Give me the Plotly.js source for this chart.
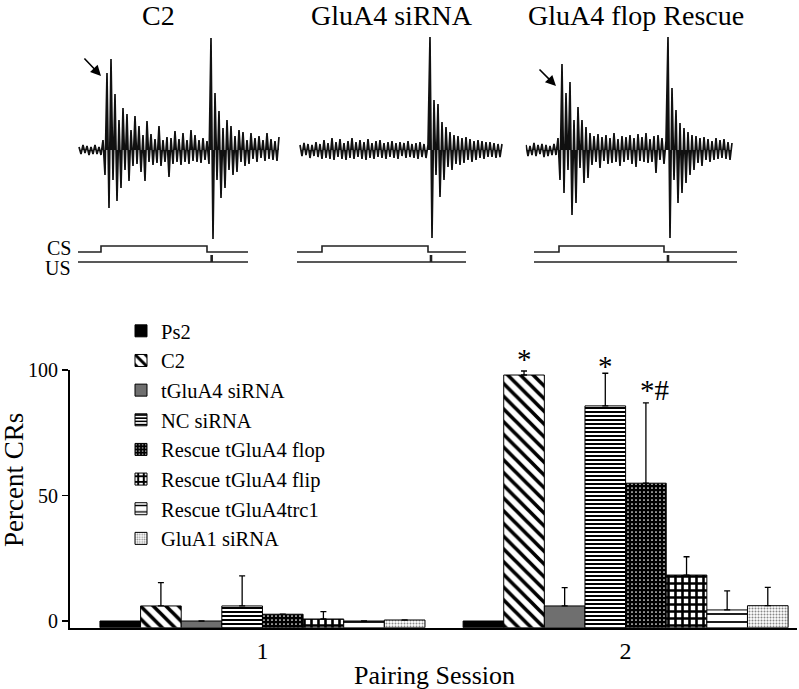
<!DOCTYPE html>
<html>
<head>
<meta charset="utf-8">
<script src="https://cdn.plot.ly/plotly-3.0.1.min.js"></script>
<style>html,body{margin:0;padding:0;background:#fff}#chart{width:799px;height:689px}</style>
</head>
<body>
<div id="chart"></div>
<script>
// ---------- Bar chart data (Percent CRs) ----------
const sessions = [1, 2];
const seriesNames = ['Ps2', 'C2', 'tGluA4 siRNA', 'NC siRNA', 'Rescue tGluA4 flop',
                     'Rescue tGluA4 flip', 'Rescue tGluA4trc1', 'GluA1 siRNA'];
const ps2Vals   = [0, 0];
const c2Vals    = [6, 98];
const tGluA4Vals= [0, 6];
const ncVals    = [6, 85.7];
const flopVals  = [2.7, 54.9];
const flipVals  = [0.8, 18.3];
const trc1Vals  = [0, 4.4];
const gluA1Vals = [0.4, 6.1];
const ps2Err    = [0, 0];
const c2Err     = [9.3, 1.6];
const tGluA4Err = [0, 7.3];
const ncErr     = [12, 13];
const flopErr   = [0, 32];
const flipErr   = [2.9, 7.3];
const trc1Err   = [0, 7.6];
const gluA1Err  = [0, 7.3];
const yTickVals = [0, 50, 100];
const signifLabels = ['*', '*', '*#'];   // above C2, NC siRNA, Rescue flop in session 2

// ---------- Trace recordings (sample values, arbitrary µV units) ----------
const c2T0 = -66, c2Dt = 6;
const c2Trace = [3,-4,5,-3,4,-5,3,-4,5,-4,3,-5,
  10,-25,77,-58,91,-30,56,-51,30,-38,42,-20,36,-31,20,-16,34,-14,24,-22,15,-31,29,-12,
  16,-15,11,-13,24,-16,10,-12,13,-27,12,-14,19,-12,11,-15,17,-12,10,-14,20,-11,15,-12,10,-13,12,-10,9,-14,
  112,-89,57,-30,39,-48,22,-38,30,-20,24,-25,14,-22,20,-12,18,-16,10,-14,
  17,-9,12,-12,14,-8,10,-11,17,-9,11,-10,9,-11,13];
const siT0 = -66, siDt = 6;
const siTrace = [5,-6,7,-5,6,-8,5,-6,8,-7,6,-9,10,-8,7,-9,12,-10,8,-7,
  11,-9,7,-10,9,-8,12,-9,8,-7,10,-9,8,-10,11,-8,7,-9,9,-7,
  10,-8,7,-9,8,-7,9,-8,7,-9,8,-6,7,-8,9,-7,6,-8,7,-9,8,-7,6,-8,5,
  113,-88,50,-25,46,-47,28,-30,23,-17,18,-20,15,-14,14,-15,12,-13,13,-10,
  11,-12,9,-10,10,-8,9,-9,8,-7,8,-7,7,-8,6,-7,6];
const flT0 = -99, flDt = 6;
const flTrace = [5,-6,4,-5,7,-6,5,-4,6,-7,5,-6,4,-5,6,-5,
  12,-30,86,-43,57,-20,68,-65,30,-53,43,-18,30,-33,23,-28,17,
  -15,14,-12,16,-18,13,-11,15,-14,12,-13,17,-12,11,-16,14,-12,13,-10,15,
  -14,12,-17,16,-11,13,-12,17,-13,11,-12,14,-23,15,-10,12,-14,9,
  113,-88,62,-30,40,-53,27,-43,22,-33,18,-25,15,-20,14,-13,12,-16,13,-10,11,
  -12,9,-10,12,-9,10,-8,11,-9,8,-10,7];
// CS (tone) and US timing in ms, per panel: [line start, CS on, CS off, line end, US time]
const c2Stim = [-69, 0, 318, 441, 332];
const siStim = [-75, 0, 318, 432, 327];
const flStim = [-75, 0, 315, 534, 327];
const csLow = -102, csHigh = -96, usLevel = -112, usTickTop = -105;
const panelTitles = ['C2', 'GluA4 siRNA', 'GluA4 flop Rescue'];

// ---------- geometry helpers ----------
const W = 799, H = 689;
const FONT = 'Liberation Serif, "Times New Roman", serif';
const px = v => v / W;
const py = v => 1 - v / H;

const AXIS_FLOOR = -2.67;
const BARGAP = 0.105;

const vals = [ps2Vals, c2Vals, tGluA4Vals, ncVals, flopVals, flipVals, trc1Vals, gluA1Vals];
const errs = [ps2Err, c2Err, tGluA4Err, ncErr, flopErr, flipErr, trc1Err, gluA1Err];
const patterns = [
  {color:'#000000', pattern:{shape:''}},
  {color:'#ffffff', pattern:{shape:'\\', fgcolor:'#000', bgcolor:'#fff', size:9, solidity:0.4, fillmode:'replace'}},
  {color:'#6f6f6f', pattern:{shape:''}},
  {color:'#ffffff', pattern:{shape:'-', fgcolor:'#000', bgcolor:'#fff', size:4, solidity:0.5, fillmode:'replace'}},
  {color:'#000000', pattern:{shape:'.', fgcolor:'#fff', bgcolor:'#000', size:4, solidity:0.15, fillmode:'replace'}},
  {color:'#ffffff', pattern:{shape:'+', fgcolor:'#000', bgcolor:'#fff', size:7, solidity:0.6, fillmode:'replace'}},
  {color:'#ffffff', pattern:{shape:'-', fgcolor:'#000', bgcolor:'#fff', size:8, solidity:0.22, fillmode:'replace'}},
  {color:'#ffffff', pattern:{shape:'.', fgcolor:'#888', bgcolor:'#fff', size:3, solidity:0.35, fillmode:'replace'}}
];

const data = [];
seriesNames.forEach((name, k) => {
  const hasErr = errs[k].some(e => e > 0);
  data.push({
    type:'bar', name:name, x:sessions,
    y: vals[k].map(v => v - AXIS_FLOOR), base: AXIS_FLOOR,
    xaxis:'x', yaxis:'y',
    marker:{color:patterns[k].color, pattern:patterns[k].pattern, line:{color:'#000', width:1}},
    error_y: hasErr ? {type:'data', symmetric:false, array:errs[k], arrayminus:errs[k].map(()=>0),
      color:'#000', thickness:1.3, width:3, visible:true} : {visible:false},
    hoverinfo:'skip'
  });
});

function tAxis(t0, dt, n){ const t=[]; for(let i=0;i<n;i++) t.push(t0+i*dt); return t; }
const panels = [
  {trace:c2Trace, t0:c2T0, dt:c2Dt, stim:c2Stim, onsetPx:101, ax:'2'},
  {trace:siTrace, t0:siT0, dt:siDt, stim:siStim, onsetPx:322, ax:'3'},
  {trace:flTrace, t0:flT0, dt:flDt, stim:flStim, onsetPx:559, ax:'4'}
];
const layoutExtra = {};
const T_MIN = -100, T_MAX = 560, MS_PER_PX = 3;
panels.forEach(p => {
  const xa = 'x'+p.ax, ya = 'y'+p.ax;
  data.push({type:'scatter', mode:'lines', x:tAxis(p.t0,p.dt,p.trace.length), y:p.trace,
    xaxis:xa, yaxis:ya, line:{color:'#111', width:1.7}, fill:'tozeroy', fillcolor:'#111',
    showlegend:false, hoverinfo:'skip'});
  const s = p.stim;
  data.push({type:'scatter', mode:'lines', x:[s[0], s[1], s[1], s[2], s[2], s[3]],
    y:[csLow, csLow, csHigh, csHigh, csLow, csLow], xaxis:xa, yaxis:ya,
    line:{color:'#222', width:1.6}, showlegend:false, hoverinfo:'skip'});
  data.push({type:'scatter', mode:'lines', x:[s[0], s[3]], y:[usLevel, usLevel], xaxis:xa, yaxis:ya,
    line:{color:'#222', width:1.6}, showlegend:false, hoverinfo:'skip'});
  data.push({type:'scatter', mode:'lines', x:[s[4], s[4]], y:[usLevel, usTickTop], xaxis:xa, yaxis:ya,
    line:{color:'#222', width:2.6}, showlegend:false, hoverinfo:'skip'});
  const left = p.onsetPx + T_MIN / MS_PER_PX;
  const right = left + (T_MAX - T_MIN) / MS_PER_PX;
  layoutExtra['xaxis'+p.ax] = {domain:[px(left), px(right)], range:[T_MIN, T_MAX], visible:false, fixedrange:true, anchor:ya};
  layoutExtra['yaxis'+p.ax] = {domain:[py(275), py(30)], range:[-125, 120], visible:false, fixedrange:true, anchor:xa};
});

// significance annotation positions (bar centres from group geometry)
const nSeries = seriesNames.length;
const barW = (1 - BARGAP) / nSeries;
const centre = k => 2 - (1 - BARGAP) / 2 + (k + 0.5) * barW;
const annotations = [];
[[1, 0, -6], [3, 1, -11], [4, 2, -5]].forEach(([k, li, ys]) => {
  annotations.push({xref:'x', yref:'y', x:centre(k), y:vals[k][1] + errs[k][1], text:signifLabels[li],
    showarrow:false, yanchor:'bottom', xanchor: li === 2 ? 'left' : 'center', xshift: li === 2 ? -8 : 0,
    yshift: ys, font:{family:FONT, size:29, color:'#000'}});
});
// panel titles
[[158, 0], [392, 1], [636, 2]].forEach(([x, i]) => annotations.push({xref:'paper', yref:'paper', x:px(x), y:py(15),
  text:panelTitles[i], showarrow:false, xanchor:'center', yanchor:'middle', font:{family:FONT, size:28, color:'#000'}}));
// CS / US labels
annotations.push({xref:'paper', yref:'paper', x:px(73), y:py(248), text:'CS', showarrow:false,
  xanchor:'right', yanchor:'middle', font:{family:FONT, size:20, color:'#000'}});
annotations.push({xref:'paper', yref:'paper', x:px(73), y:py(268), text:'US', showarrow:false,
  xanchor:'right', yanchor:'middle', font:{family:FONT, size:20, color:'#000'}});
// arrows pointing at the CR
annotations.push({xref:'x2', yref:'y2', x:0, y:74, ax:-18, ay:-19, text:'', showarrow:true,
  arrowhead:2, arrowsize:1.3, arrowwidth:1.6, arrowcolor:'#000'});
annotations.push({xref:'x4', yref:'y4', x:-9, y:64, ax:-18, ay:-18, text:'', showarrow:true,
  arrowhead:2, arrowsize:1.3, arrowwidth:1.6, arrowcolor:'#000'});
// axis titles
annotations.push({xref:'paper', yref:'paper', x:px(14), y:py(480), text:'Percent CRs', textangle:-90,
  showarrow:false, xanchor:'center', yanchor:'middle', font:{family:FONT, size:27, color:'#000'}});
annotations.push({xref:'paper', yref:'paper', x:px(434), y:py(675), text:'Pairing Session',
  showarrow:false, xanchor:'center', yanchor:'middle', font:{family:FONT, size:26, color:'#000'}});

const layout = Object.assign({
  width:W, height:H, margin:{l:0, r:0, t:0, b:0},
  paper_bgcolor:'#fff', plot_bgcolor:'rgba(0,0,0,0)',
  font:{family:FONT, color:'#000'},
  barmode:'group', bargap:BARGAP, bargroupgap:0,
  showlegend:true,
  legend:{x:px(121), y:py(311), xanchor:'left', yanchor:'top', bgcolor:'rgba(0,0,0,0)',
    font:{family:FONT, size:20.5, color:'#000'}, traceorder:'normal', itemclick:false},
  xaxis:{domain:[px(70), px(797)], range:[0.470, 2.472], type:'linear', tickvals:sessions,
    ticktext:sessions.map(String), ticks:'', showline:true, linewidth:2, linecolor:'#000',
    showgrid:false, zeroline:false, tickfont:{family:FONT, size:24, color:'#000'}, anchor:'y', fixedrange:true},
  yaxis:{domain:[py(627.7), py(370)], range:[AXIS_FLOOR, 100], tickvals:yTickVals,
    ticks:'outside', ticklen:6, tickwidth:1.5, tickcolor:'#000', showline:true, linewidth:2, linecolor:'#000',
    showgrid:false, zeroline:false, tickfont:{family:FONT, size:20, color:'#000'}, anchor:'x', fixedrange:true},
  annotations:annotations
}, layoutExtra);

Plotly.newPlot('chart', data, layout, {displayModeBar:false, staticPlot:true});
</script>
</body>
</html>
